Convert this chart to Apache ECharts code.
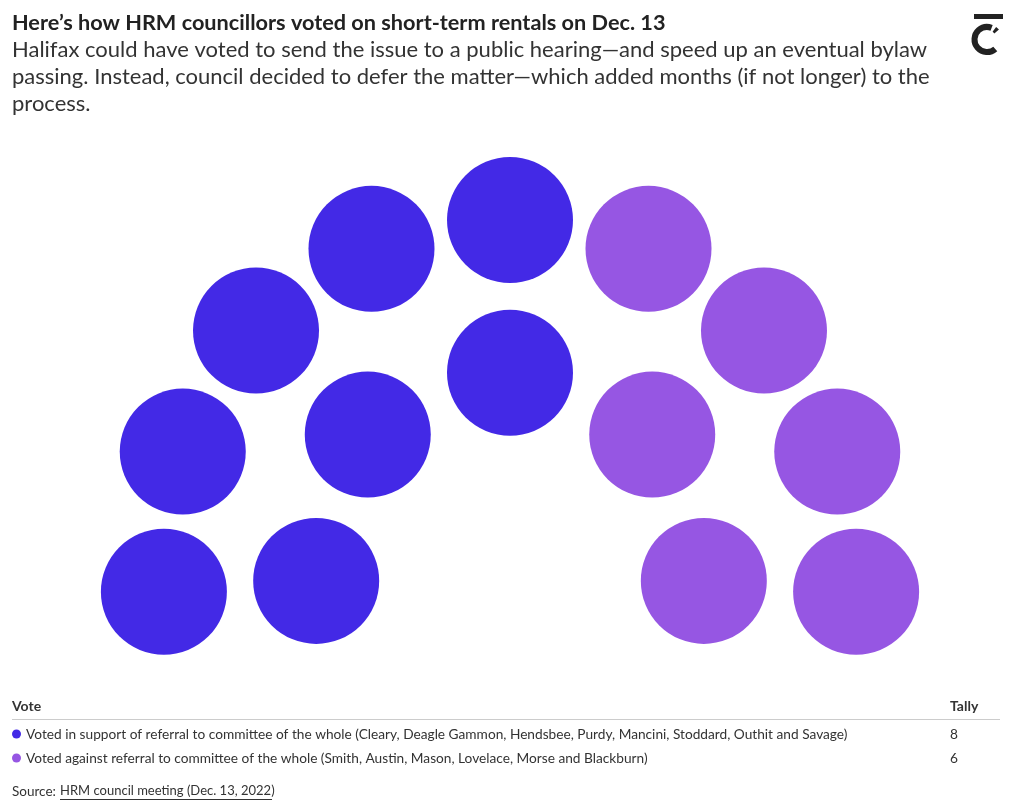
<!DOCTYPE html>
<html><head><meta charset="utf-8">
<script src="https://cdn.jsdelivr.net/npm/echarts@6/dist/echarts.min.js"></script>
<style>html,body{margin:0;padding:0;background:#fff}#c{width:1020px;height:811px}</style>
</head><body><div id="c"></div>
<script>
// ---- data ----
const categories = [
  "Voted in support of referral to committee of the whole (Cleary, Deagle Gammon, Hendsbee, Purdy, Mancini, Stoddard, Outhit and Savage)",
  "Voted against referral to committee of the whole (Smith, Austin, Mason, Lovelace, Morse and Blackburn)"
];
const tallies = [8, 6];
const colors = ["#4329E6", "#9656E3"];
const titleText = "Here\u2019s how HRM councillors voted on short-term rentals on Dec. 13";
const subtitleLines = [
  "Halifax could have voted to send the issue to a public hearing\u2014and speed up an eventual bylaw",
  "passing. Instead, council decided to defer the matter\u2014which added months (if not longer) to the",
  "process."
];
const sourceLabel = "Source: ";
const sourceLink = "HRM council meeting (Dec. 13, 2022)";

// ---- parliament layout (rows: inner -> outer) ----
const rowRadii = [0.56, 1.0];
const rowSeats = [5, 9];
const arcStart = 184.1, arcEnd = -4.1;
let seats = [];
rowRadii.forEach((r, i) => {
  const n = rowSeats[i];
  for (let k = 0; k < n; k++) {
    const a = arcStart + (arcEnd - arcStart) * k / (n - 1);
    seats.push({ r: r, a: a });
  }
});
seats.sort((p, q) => (q.a - p.a) || (p.r - q.r));
const seriesData = tallies.map(() => []);
let idx = 0;
tallies.forEach((t, s) => {
  for (let j = 0; j < t; j++, idx++) {
    const p = seats[idx];
    seriesData[s].push([p.r, (p.a + 360) % 360]);
  }
});

const FONT = "Lato";
const txt = "#333";
const graphics = [
  { type: 'text', left: 12, top: 12, style: { text: titleText, font: "bold 21.7px " + FONT, fill: "#222" } },
  ...subtitleLines.map((l, i) => ({ type: 'text', left: 12, top: 39 + i * 27, style: { text: l, font: "22px " + FONT, fill: txt } })),
  // logo
  { type: 'rect', shape: { x: 974, y: 14, width: 29, height: 5 }, style: { fill: "#222" } },
  { type: 'arc', shape: { cx: 987, cy: 39.5, r: 12.5, startAngle: Math.PI * 0.27, endAngle: Math.PI * 1.62, clockwise: true }, style: { stroke: "#222", lineWidth: 6, fill: null } },
  { type: 'arc', shape: { cx: 987, cy: 39.5, r: 12.5, startAngle: Math.PI * 1.70, endAngle: Math.PI * 1.78, clockwise: true }, style: { stroke: "#222", lineWidth: 6, fill: null } },
  // table header
  { type: 'text', left: 12, top: 699, style: { text: "Vote", font: "bold 14px " + FONT, fill: txt } },
  { type: 'text', left: 950, top: 699, style: { text: "Tally", font: "bold 14px " + FONT, fill: txt } },
  { type: 'line', shape: { x1: 12, y1: 719.5, x2: 1000, y2: 719.5 }, style: { stroke: "#cccccc", lineWidth: 1 } },
  ...categories.flatMap((c, i) => [
    { type: 'circle', shape: { cx: 16.5, cy: 734 + i * 24, r: 4.5 }, style: { fill: colors[i] } },
    { type: 'text', left: 26, top: 727.5 + i * 24, style: { text: c, font: "13.7px " + FONT, fill: txt } },
    { type: 'text', left: 950, top: 727.5 + i * 24, style: { text: String(tallies[i]), font: "13.7px " + FONT, fill: txt } }
  ]),
  { type: 'text', left: 12, top: 784.5, style: { text: sourceLabel, font: "13.5px " + FONT, fill: txt } },
  { type: 'text', id: 'src', left: 60, top: 784.5, style: { text: sourceLink, font: "13px " + FONT, fill: txt } },
  { type: 'line', shape: { x1: 60, y1: 799.5, x2: 272, y2: 799.5 }, style: { stroke: txt, lineWidth: 1 } }
];

const chart = echarts.init(document.getElementById('c'), null, { renderer: 'canvas' });
chart.setOption({
  animation: false,
  backgroundColor: '#fff',
  polar: { center: [510, 567], radius: 347 },
  radiusAxis: { type: 'value', min: 0, max: 1, show: false },
  angleAxis: { type: 'value', min: 0, max: 360, startAngle: 0, clockwise: false, show: false },
  series: seriesData.map((d, i) => ({
    type: 'scatter', name: categories[i], coordinateSystem: 'polar',
    data: d, symbol: 'circle', symbolSize: 126,
    itemStyle: { color: colors[i], opacity: 1 }
  })),
  graphic: graphics
});
</script></body></html>
